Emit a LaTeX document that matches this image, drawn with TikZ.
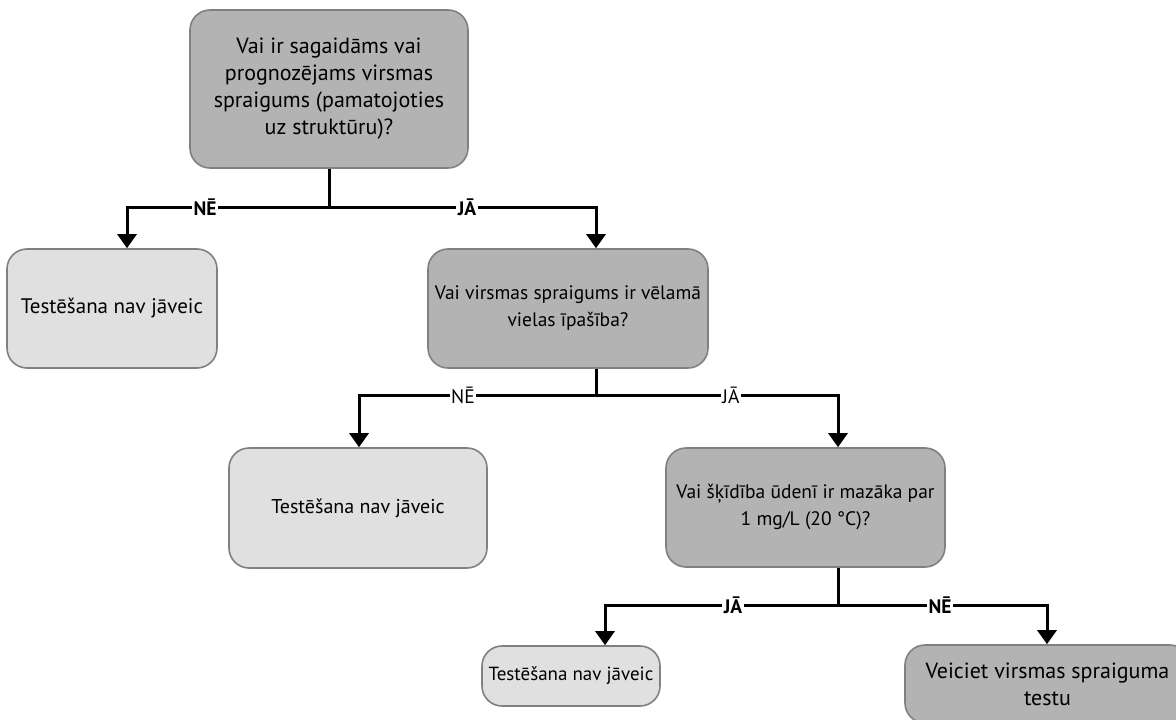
\documentclass[tikz,border=0pt]{standalone}
\usepackage{fontspec}
\setmainfont{PT Sans}
\usetikzlibrary{arrows.meta}
\definecolor{qfill}{HTML}{B3B3B3}
\definecolor{afill}{HTML}{E0E0E0}
\definecolor{edge}{HTML}{808080}
\newcommand{\boxfont}[1]{\fontsize{#1}{27}\selectfont}
\begin{document}
\begin{tikzpicture}[x=1pt,y=-1pt,
  box/.style={draw=edge, line width=1.6pt, rounded corners=20pt, align=center,
    font=\boxfont{20}, inner sep=0pt},
  qbox/.style={box, fill=qfill},
  abox/.style={box, fill=afill},
  wire/.style={line width=3pt, black},
  arr/.style={wire, -{Triangle[width=19pt,length=14pt]}},
  lab/.style={fill=white, inner sep=1.5pt, font=\fontsize{19.5}{22}\selectfont},
  blab/.style={lab, font=\fontsize{19.5}{22}\selectfont\bfseries}]
\useasboundingbox (0,0) rectangle (1176,720);
\clip (0,0) rectangle (1176,720);

% question and outcome boxes
\node[qbox, minimum width=278pt, minimum height=158pt, font=\boxfont{22}] (q1) at (329,89)
  {Vai ir sagaidāms vai\\prognozējams virsmas\\spraigums (pamatojoties\\uz struktūru)?};
\node[abox, minimum width=210pt, minimum height=119pt, font=\boxfont{21}] (a1) at (112,308.5)
  {Testēšana nav jāveic};
\node[qbox, minimum width=280pt, minimum height=119pt, font=\boxfont{19.5}] (q2) at (568,308.5)
  {Vai virsmas spraigums ir vēlamā\\vielas īpašība?};
\node[abox, minimum width=258pt, minimum height=120pt] (a2) at (358,508)
  {Testēšana nav jāveic};
\node[qbox, minimum width=279pt, minimum height=119pt, font=\boxfont{19.5}] (q3) at (805.5,507.5)
  {Vai šķīdība ūdenī ir mazāka par\\1 mg/L (20 °C)?};
\node[abox, minimum width=178pt, minimum height=60pt, font=\boxfont{19}] (a3) at (571,676)
  {Testēšana nav jāveic};
\node[qbox, minimum width=285pt, minimum height=78pt, font=\boxfont{22}] (a4) at (1047.5,684)
  {Veiciet virsmas spraiguma\\testu};

% branch points and arrow columns
\coordinate (j1) at (329,207);
\coordinate (j2) at (596,395);
\coordinate (j3) at (838,605);
\coordinate (x1) at (127,0);
\coordinate (x2) at (596,0);
\coordinate (x3) at (359,0);
\coordinate (x4) at (838,0);
\coordinate (x5) at (605,0);
\coordinate (x6) at (1047,0);

% first decision
\draw[wire] (q1.south) -- (j1);
\draw[arr] (j1) -| (x1 |- a1.north);
\draw[arr] (j1) -| (x2 |- q2.north);
\node[blab] (n1) at (205,207) {NĒ};
\node[blab] (y1) at (467,207) {JĀ};

% second decision
\draw[wire] (q2.south -| j2) -- (j2);
\draw[arr] (j2) -| (x3 |- a2.north);
\draw[arr] (j2) -| (x4 |- q3.north);
\node[lab] (n2) at (463,395) {NĒ};
\node[lab] (y2) at (731,395) {JĀ};

% third decision
\draw[wire] (q3.south -| j3) -- (j3);
\draw[arr] (j3) -| (x5 |- a3.north);
\draw[arr] (j3) -| (x6 |- a4.north);
\node[blab] (y3) at (733,605) {JĀ};
\node[blab] (n3) at (940,605) {NĒ};
\end{tikzpicture}
\end{document}
